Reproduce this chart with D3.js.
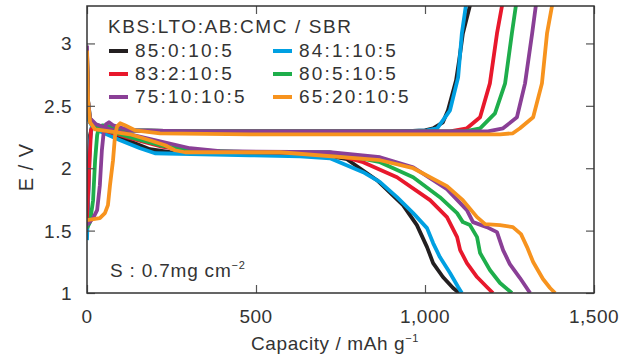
<!DOCTYPE html>
<html><head><meta charset="utf-8">
<script src="https://cdn.jsdelivr.net/npm/d3@7"></script>
<style>
html,body{margin:0;padding:0;background:#fff;}
svg text{font-family:"Liberation Sans",Arial,sans-serif;fill:#333;}
</style></head>
<body><svg id="c" width="628" height="356"></svg>
<script>
// ---- data ----
const seriesLabels = ["85:0:10:5","84:1:10:5","83:2:10:5","80:5:10:5","75:10:10:5","65:20:10:5"];
const xTicks = [0,500,1000,1500];
const xTickLabels = ["0","500","1,000","1,500"];
const yTicks = [1,1.5,2,2.5,3];
const yTickLabels = ["1","1.5","2","2.5","3"];

// charge curves [capacity mAh/g, E V]
const charge85 = [[0,1.464],[3,1.744],[6,2.064],[9,2.264],[15,2.336],[38,2.328],[127,2.304],[334,2.296],[630,2.296],[926,2.296],[1000,2.304],[1024,2.32],[1053,2.368],[1068,2.464],[1092,2.704],[1101,2.864],[1112,3.08],[1133,3.304]];
const charge84 = [[0,1.424],[3,1.704],[6,1.984],[9,2.224],[15,2.344],[30,2.344],[127,2.304],[334,2.296],[926,2.296],[1006,2.304],[1036,2.32],[1074,2.464],[1098,2.728],[1109,3.08],[1121,3.304]];
const charge83 = [[0,1.544],[3,1.784],[9,2.144],[12,2.304],[21,2.344],[38,2.336],[127,2.304],[334,2.296],[926,2.296],[1074,2.296],[1124,2.32],[1163,2.408],[1192,2.68],[1213,3.08],[1228,3.304]];
const charge80 = [[0,1.52],[9,1.568],[18,1.744],[24,2.064],[30,2.264],[36,2.336],[47,2.344],[127,2.304],[334,2.296],[926,2.296],[1118,2.296],[1163,2.32],[1207,2.44],[1237,2.68],[1257,3.08],[1269,3.304]];
const charge75 = [[0,1.544],[18,1.6],[30,1.664],[38,1.864],[44,2.144],[50,2.304],[56,2.352],[65,2.368],[77,2.344],[127,2.304],[334,2.296],[926,2.296],[1186,2.296],[1231,2.32],[1272,2.408],[1296,2.68],[1317,3.08],[1328,3.304]];
const charge65 = [[0,1.584],[38,1.6],[53,1.64],[62,1.704],[68,1.864],[77,2.064],[83,2.264],[89,2.336],[98,2.36],[112,2.344],[142,2.304],[216,2.28],[482,2.272],[926,2.272],[1222,2.272],[1260,2.28],[1281,2.32],[1320,2.408],[1346,2.68],[1361,3.08],[1376,3.304]];

// discharge curves
const discharge85 = [[0,2.864],[3,2.504],[9,2.368],[24,2.32],[68,2.272],[127,2.216],[186,2.152],[246,2.128],[482,2.12],[630,2.112],[719,2.096],[769,2.072],[858,1.904],[935,1.704],[976,1.544],[1006,1.368],[1024,1.24],[1053,1.128],[1083,1.04],[1101,1.0]];
const discharge84 = [[0,2.904],[3,2.544],[6,2.384],[15,2.336],[38,2.296],[98,2.224],[157,2.16],[201,2.12],[482,2.104],[630,2.096],[719,2.08],[817,1.968],[867,1.888],[917,1.768],[965,1.64],[1006,1.52],[1024,1.4],[1044,1.288],[1074,1.16],[1098,1.048],[1109,1.0]];
const discharge83 = [[0,2.944],[3,2.544],[9,2.384],[24,2.328],[68,2.288],[127,2.24],[216,2.176],[305,2.136],[482,2.128],[719,2.12],[817,2.048],[917,1.928],[1015,1.744],[1065,1.608],[1095,1.448],[1104,1.344],[1124,1.24],[1154,1.128],[1183,1.048],[1201,1.0]];
const discharge80 = [[0,2.928],[3,2.544],[9,2.4],[24,2.336],[68,2.296],[127,2.248],[216,2.184],[305,2.144],[482,2.128],[719,2.128],[867,2.048],[965,1.928],[1044,1.768],[1095,1.64],[1112,1.568],[1133,1.544],[1154,1.448],[1163,1.32],[1192,1.184],[1222,1.08],[1257,1.0]];
const discharge75 = [[0,2.984],[3,2.544],[9,2.4],[27,2.352],[68,2.312],[127,2.272],[216,2.216],[305,2.16],[393,2.136],[719,2.128],[867,2.088],[965,2.008],[1065,1.832],[1124,1.664],[1142,1.568],[1183,1.528],[1213,1.488],[1231,1.344],[1251,1.232],[1281,1.12],[1311,1.0]];
const discharge65 = [[0,2.944],[3,2.544],[9,2.368],[24,2.312],[68,2.296],[127,2.272],[186,2.224],[231,2.184],[260,2.144],[290,2.128],[571,2.128],[867,2.064],[965,2.0],[1065,1.856],[1112,1.744],[1154,1.608],[1178,1.552],[1222,1.544],[1260,1.528],[1284,1.472],[1302,1.368],[1320,1.248],[1349,1.112],[1370,1.04],[1385,1.0]];

const colors = ["#231f20","#00a0e2","#e8182c","#1eae4b","#8a3f96","#f7931e"];
const charges = [charge85,charge84,charge83,charge80,charge75,charge65];
const discharges = [discharge85,discharge84,discharge83,discharge80,discharge75,discharge65];

// ---- layout ----
const W=628,H=356, m={l:87,r:34,t:6,b:63};
const svg=d3.select("#c");
const x=d3.scaleLinear().domain([0,1500]).range([m.l,W-m.r]);
const y=d3.scaleLinear().domain([1,3.3]).range([H-m.b,m.t]);

svg.append("defs").append("clipPath").attr("id","clip").append("rect")
  .attr("x",m.l).attr("y",m.t).attr("width",W-m.l-m.r).attr("height",H-m.t-m.b);

const line=d3.line().x(d=>x(d[0])).y(d=>y(d[1]));
const g=svg.append("g").attr("clip-path","url(#clip)");
for(let i=0;i<6;i++){
  g.append("path").datum(discharges[i]).attr("d",line).attr("fill","none")
   .attr("stroke",colors[i]).attr("stroke-width",3.8).attr("stroke-linejoin","round");
  g.append("path").datum(charges[i]).attr("d",line).attr("fill","none")
   .attr("stroke",colors[i]).attr("stroke-width",3.8).attr("stroke-linejoin","round");
}

// axes (inward ticks)
const axCol="#555";
function styleAxis(sel){sel.select(".domain").remove();sel.selectAll("line").attr("stroke",axCol).attr("stroke-width",1.2);}
svg.append("g").attr("transform",`translate(0,${H-m.b})`)
  .call(d3.axisBottom(x).tickValues(xTicks).tickSize(-8).tickFormat(""))
  .call(styleAxis);
svg.append("g").attr("transform",`translate(0,${m.t})`)
  .call(d3.axisTop(x).tickValues(xTicks).tickSize(-8).tickFormat(""))
  .call(styleAxis);
svg.append("g").attr("transform",`translate(${m.l},0)`)
  .call(d3.axisLeft(y).tickValues(yTicks).tickSize(-8).tickFormat(""))
  .call(styleAxis);
svg.append("g").attr("transform",`translate(${W-m.r},0)`)
  .call(d3.axisRight(y).tickValues(yTicks).tickSize(-8).tickFormat(""))
  .call(styleAxis);

// frame
svg.append("rect").attr("x",m.l).attr("y",m.t).attr("width",W-m.l-m.r).attr("height",H-m.t-m.b)
  .attr("fill","none").attr("stroke","#333").attr("stroke-width",1.5);

// tick labels
svg.append("g").selectAll("text").data(xTicks).join("text")
  .attr("x",d=>x(d)).attr("y",323).attr("text-anchor","middle")
  .attr("font-size",19).attr("letter-spacing",0.5).text((d,i)=>xTickLabels[i]);
svg.append("g").selectAll("text").data(yTicks).join("text")
  .attr("x",72).attr("y",d=>y(d)+7).attr("text-anchor","end")
  .attr("font-size",19).attr("letter-spacing",0.5).text((d,i)=>yTickLabels[i]);

// axis titles
svg.append("text").attr("transform","translate(33,167) rotate(-90)").attr("text-anchor","middle")
  .attr("font-size",20).attr("letter-spacing",1).text("E / V");
const xt=svg.append("text").attr("x",335).attr("y",350).attr("text-anchor","middle")
  .attr("font-size",19).attr("letter-spacing",0.6);
xt.append("tspan").text("Capacity / mAh g");
xt.append("tspan").attr("font-size",11).attr("dy",-8).text("\u22121");

// legend
svg.append("text").attr("x",108).attr("y",33).attr("font-size",19).attr("letter-spacing",1.6)
  .text("KBS:LTO:AB:CMC / SBR");
const legPos=[[0,0],[1,0],[0,1],[1,1],[0,2],[1,2]];
seriesLabels.forEach((lab,i)=>{
  const cx=legPos[i][0]===0?109:273, by=57+legPos[i][1]*23;
  svg.append("line").attr("x1",cx).attr("x2",cx+19).attr("y1",by-6).attr("y2",by-6)
    .attr("stroke",colors[i]).attr("stroke-width",4);
  svg.append("text").attr("x",cx+26).attr("y",by).attr("font-size",19).attr("letter-spacing",2.2).text(lab);
});

// annotation
const an=svg.append("text").attr("x",110).attr("y",277).attr("font-size",19).attr("letter-spacing",0.8);
an.append("tspan").text("S : 0.7mg cm");
an.append("tspan").attr("font-size",11).attr("dy",-8).text("\u22122");
</script></body></html>
